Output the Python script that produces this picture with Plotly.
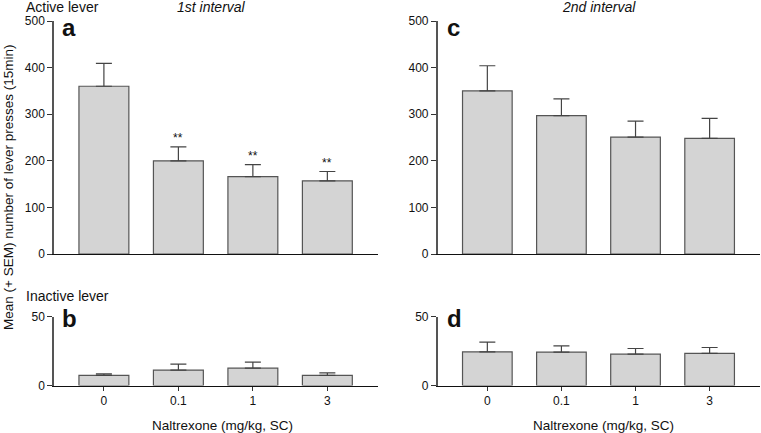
import plotly.graph_objects as go

doses = ["0", "0.1", "1", "3"]
pos = [0, 1, 2, 3]

# Active lever, 1st interval (panel a)
active_1 = [360, 200, 166, 157]
active_1_sem = [49, 30, 26, 20]
# Active lever, 2nd interval (panel c)
active_2 = [350, 297, 251, 248]
active_2_sem = [54, 36, 34, 43]
# Inactive lever, 1st interval (panel b)
inactive_1 = [7.3, 11.2, 12.6, 7.3]
inactive_1_sem = [1.2, 4.3, 4.4, 1.9]
# Inactive lever, 2nd interval (panel d)
inactive_2 = [24.5, 24.3, 22.8, 23.3]
inactive_2_sem = [7.0, 4.5, 4.1, 4.3]

sig_1 = ["", "**", "**", "**"]

FONT = "Liberation Sans, Arial, sans-serif"
BAR_FILL = "#d4d4d4"
BAR_LINE = "#555555"

W, H = 761, 433
def px_x(p):
    return p / W
def px_y(p):
    return 1 - p / H

fig = go.Figure()

def add_bars(vals, sems, xa, ya):
    fig.add_trace(go.Bar(
        x=pos, y=vals, xaxis=xa, yaxis=ya,
        marker=dict(color=BAR_FILL, line=dict(color=BAR_LINE, width=1.2)),
        width=0.67,
        error_y=dict(type="data", array=sems, arrayminus=[0]*len(sems),
                     symmetric=False, color="#444444", thickness=1.2, width=8),
        showlegend=False, hoverinfo="skip",
    ))

add_bars(active_1, active_1_sem, "x", "y")
add_bars(active_2, active_2_sem, "x2", "y2")
add_bars(inactive_1, inactive_1_sem, "x3", "y3")
add_bars(inactive_2, inactive_2_sem, "x4", "y4")

top_y = [px_y(254), px_y(21)]
bot_y = [px_y(385.5), px_y(316.7)]
left_x = [px_x(54), px_x(378)]
right_x = [px_x(437.7), px_x(760)]

tickfont = dict(family=FONT, size=12, color="#111")
xr = [-0.67, 3.68]

def xaxis(domain, anchor, labels):
    return dict(domain=domain, anchor=anchor, range=xr,
                tickvals=pos, ticktext=doses,
                showline=True, linecolor="#111", linewidth=1.2,
                ticks="outside" if labels else "", ticklen=4, tickcolor="#333",
                showticklabels=labels, tickfont=tickfont, showgrid=False,
                zeroline=False, fixedrange=True, automargin=False)

def yaxis(domain, anchor, rng, dtick):
    return dict(domain=domain, anchor=anchor, range=rng, dtick=dtick,
                showline=True, linecolor="#555", linewidth=1.5,
                ticks="outside", ticklen=5, tickcolor="#333",
                tickfont=tickfont, showgrid=False, zeroline=False,
                fixedrange=True, automargin=False)

fig.update_layout(
    width=W, height=H,
    margin=dict(l=0, r=0, t=0, b=0, autoexpand=False),
    paper_bgcolor="white", plot_bgcolor="white",
    font=dict(family=FONT, color="#111"),
    xaxis=xaxis(left_x, "y", False),
    yaxis=yaxis(top_y, "x", [0, 500], 100),
    xaxis2=xaxis(right_x, "y2", False),
    yaxis2=yaxis(top_y, "x2", [0, 500], 100),
    xaxis3=xaxis(left_x, "y3", True),
    yaxis3=yaxis(bot_y, "x3", [0, 50], 50),
    xaxis4=xaxis(right_x, "y4", True),
    yaxis4=yaxis(bot_y, "x4", [0, 50], 50),
)

ann = []
# significance stars
for p, v, s, t in zip(pos, active_1, active_1_sem, sig_1):
    if t:
        ann.append(dict(x=p, y=v + s, xref="x", yref="y", text=t, showarrow=False,
                        yanchor="bottom", yshift=0, font=dict(family=FONT, size=12, color="#111")))

def txt(x, y, text, size=12, xanchor="left", italic=False, bold=False):
    if italic:
        text = "<i>" + text + "</i>"
    if bold:
        text = "<b>" + text + "</b>"
    ann.append(dict(x=px_x(x), y=px_y(y), xref="paper", yref="paper", text=text,
                    showarrow=False, xanchor=xanchor, yanchor="middle",
                    font=dict(family=FONT, size=size, color="#111")))

txt(24, 7, "Active lever", 14)
txt(211, 7, "1st interval", 14, xanchor="center", italic=True)
txt(599, 7, "2nd interval", 14, xanchor="center", italic=True)
txt(24, 296, "Inactive lever", 14)
txt(60, 28, "a", 24, bold=True)
txt(445, 28, "c", 24, bold=True)
txt(60, 318, "b", 24, bold=True)
txt(445, 318, "d", 24, bold=True)
txt(223, 425, "Naltrexone (mg/kg, SC)", 13.5, xanchor="center")
txt(603, 425, "Naltrexone (mg/kg, SC)", 13.5, xanchor="center")

ann.append(dict(x=px_x(8), y=px_y(188), xref="paper", yref="paper",
                text="Mean (+ SEM) number of lever presses (15min)", textangle=-90,
                showarrow=False, xanchor="center", yanchor="middle",
                font=dict(family=FONT, size=13.5, color="#111")))

fig.update_layout(annotations=ann)
fig.write_html("out.html", config={"displayModeBar": False},
               post_script="document.body.style.margin='0';")
